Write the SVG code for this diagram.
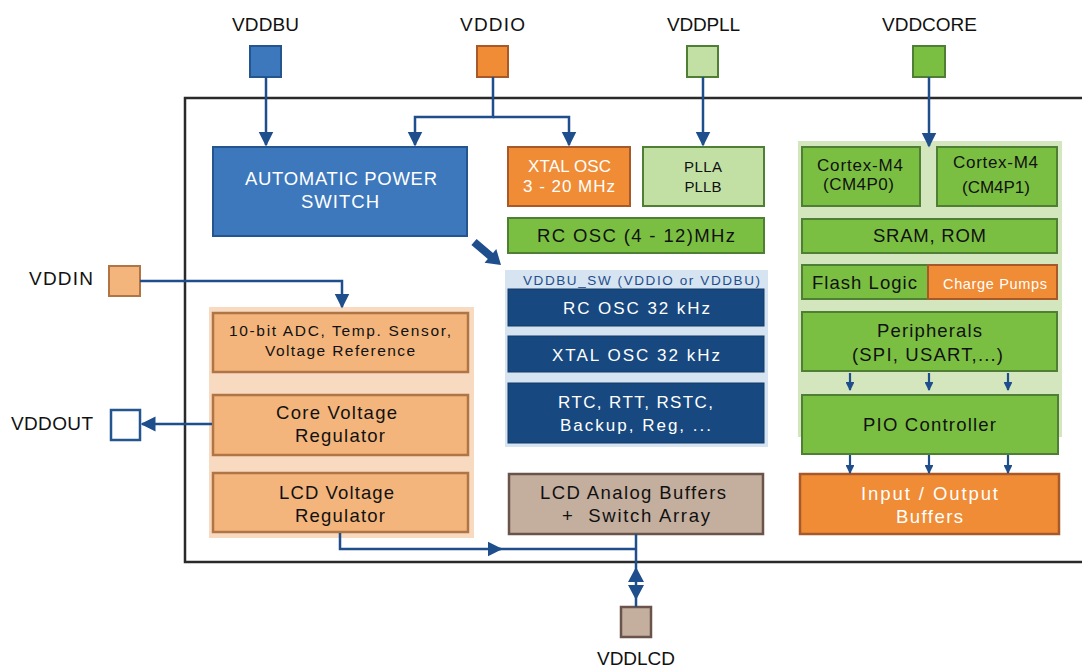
<svg xmlns="http://www.w3.org/2000/svg" width="1082" height="669" viewBox="0 0 1082 669">
<defs>
<style>
text{font-family:"Liberation Sans",Arial,sans-serif;text-anchor:middle;white-space:pre}
.lbl{font-size:19px;fill:#111}
.m{font-size:18.5px}
.s{font-size:17px}
.xs{font-size:15.5px}
.w{fill:#fff}
.k{fill:#111}
.c{stroke:#1f4e8c;stroke-width:2.5;fill:none}
.cs{stroke:#1f4e8c;stroke-width:2.2;fill:none}
.blue{fill:#3d78bd;stroke:#25558f;stroke-width:2}
.dblue{fill:#17487f;stroke:#123a68;stroke-width:1}
.org{fill:#f08c35;stroke:#a8592a;stroke-width:2}
.peach{fill:#f3b57c;stroke:#b07545;stroke-width:2.5}
.lgr{fill:#c3e0a4;stroke:#4f7f35;stroke-width:2}
.gr{fill:#7bbf42;stroke:#4f7f35;stroke-width:2}
.tan{fill:#c4ae9e;stroke:#6a534a;stroke-width:2.5}
</style>
<marker id="ah" viewBox="0 0 10 10" refX="9" refY="5" markerWidth="6" markerHeight="6.5" orient="auto" markerUnits="strokeWidth">
<path d="M0,0 L10,5 L0,10 Z" fill="#1f4e8c"/>
</marker>
<marker id="as" viewBox="0 0 10 10" refX="9" refY="5" markerWidth="4.5" markerHeight="4" orient="auto" markerUnits="strokeWidth">
<path d="M0,0 L10,5 L0,10 Z" fill="#1f4e8c"/>
</marker>
</defs>
<rect width="1082" height="669" fill="#fff"/>

<!-- chip outline -->
<path d="M1084,98 H185 V562 H1084" fill="none" stroke="#2a2a2a" stroke-width="2.5"/>

<!-- background groups -->
<g id="bg-analog"><rect x="209" y="307" width="265" height="231" fill="#f8dac0"/></g>
<g id="bg-vddbusw">
<rect x="505" y="270" width="263" height="177" fill="#d6e3f0"/>
<text x="641.5" y="285" textLength="237" lengthAdjust="spacing" style="font-size:13.5px;fill:#1f4e8c">VDDBU_SW (VDDIO or VDDBU)</text>
</g>
<g id="bg-core"><rect x="798" y="141" width="264" height="296" fill="#d3e6bd"/></g>

<!-- pins -->
<g id="pin-vddbu"><rect class="blue" x="250" y="46" width="31" height="31"/><text class="lbl" x="265.5" y="31" textLength="67" lengthAdjust="spacing">VDDBU</text></g>
<g id="pin-vddio"><rect class="org" x="477" y="46" width="31" height="31"/><text class="lbl" x="492.5" y="31" textLength="65" lengthAdjust="spacing">VDDIO</text></g>
<g id="pin-vddpll"><rect class="lgr" x="687" y="46" width="31" height="31"/><text class="lbl" x="703.5" y="31" textLength="73" lengthAdjust="spacing">VDDPLL</text></g>
<g id="pin-vddcore"><rect class="gr" x="913" y="46" width="32" height="31"/><text class="lbl" x="929.5" y="31" textLength="95" lengthAdjust="spacing">VDDCORE</text></g>
<g id="pin-vddin"><rect class="peach" x="109" y="266" width="31" height="30" style="stroke-width:2"/><text class="lbl" x="61" y="285" textLength="64" lengthAdjust="spacing">VDDIN</text></g>
<g id="pin-vddout"><rect x="111" y="410" width="29" height="30" fill="#fff" stroke="#25558f" stroke-width="2.5"/><text class="lbl" x="52" y="430" textLength="82" lengthAdjust="spacing">VDDOUT</text></g>
<g id="pin-vddlcd"><rect class="tan" x="621" y="607" width="30" height="30"/><text class="lbl" x="636" y="665" textLength="78" lengthAdjust="spacing">VDDLCD</text></g>

<!-- blocks -->
<g id="aps"><rect class="blue" x="213" y="147" width="254" height="89"/>
<text class="w m" x="341" y="185" textLength="192" lengthAdjust="spacing">AUTOMATIC POWER</text>
<text class="w m" x="340" y="208" textLength="78" lengthAdjust="spacing">SWITCH</text></g>

<g id="xtal"><rect class="org" x="508" y="147" width="122" height="59"/>
<text class="w s" x="569.5" y="172" textLength="83" lengthAdjust="spacing">XTAL OSC</text>
<text class="w s" x="569" y="192" textLength="92" lengthAdjust="spacing">3 - 20 MHz</text></g>

<g id="pll"><rect class="lgr" x="643" y="147" width="121" height="59"/>
<text class="k" x="703" y="172" textLength="38" lengthAdjust="spacing" style="font-size:15px">PLLA</text>
<text class="k" x="703" y="192" textLength="37" lengthAdjust="spacing" style="font-size:15px">PLLB</text></g>

<g id="rcosc"><rect class="gr" x="508" y="218" width="256" height="35"/>
<text class="k m" x="636" y="242" textLength="198" lengthAdjust="spacing">RC OSC (4 - 12)MHz</text></g>

<g id="rc32"><rect class="dblue" x="508" y="289" width="256" height="37"/>
<text class="w s" x="636.5" y="314" textLength="147" lengthAdjust="spacing">RC OSC 32 kHz</text></g>
<g id="xtal32"><rect class="dblue" x="508" y="336" width="256" height="36"/>
<text class="w s" x="636" y="361" textLength="168" lengthAdjust="spacing">XTAL OSC 32 kHz</text></g>
<g id="rtc"><rect class="dblue" x="508" y="383" width="256" height="60"/>
<text class="w s" x="635.5" y="408" textLength="155" lengthAdjust="spacing">RTC, RTT, RSTC,</text>
<text class="w s" x="635.5" y="431" textLength="151" lengthAdjust="spacing">Backup, Reg, ...</text></g>

<g id="lcdbuf"><rect class="tan" x="509" y="474" width="254" height="60"/>
<text class="k m" x="633" y="499" textLength="186" lengthAdjust="spacing">LCD Analog Buffers</text>
<text class="k m" x="636" y="522" textLength="148" lengthAdjust="spacing">+  Switch Array</text></g>

<g id="adc"><rect class="peach" x="213" y="313" width="255" height="59"/>
<text class="k xs" x="340" y="336" textLength="222" lengthAdjust="spacing">10-bit ADC, Temp. Sensor,</text>
<text class="k xs" x="340" y="356" textLength="150" lengthAdjust="spacing">Voltage Reference</text></g>
<g id="corereg"><rect class="peach" x="213" y="395" width="255" height="60"/>
<text class="k m" x="336.5" y="419" textLength="121" lengthAdjust="spacing">Core Voltage</text>
<text class="k m" x="340" y="442" textLength="90" lengthAdjust="spacing">Regulator</text></g>
<g id="lcdreg"><rect class="peach" x="213" y="473" width="255" height="59"/>
<text class="k m" x="336.5" y="499" textLength="115" lengthAdjust="spacing">LCD Voltage</text>
<text class="k m" x="340" y="522" textLength="90" lengthAdjust="spacing">Regulator</text></g>

<g id="cm4p0"><rect class="gr" x="802" y="147" width="118" height="59"/>
<text class="k s" x="860" y="171" textLength="86" lengthAdjust="spacing">Cortex-M4</text>
<text class="k s" x="858.5" y="190" textLength="71" lengthAdjust="spacing">(CM4P0)</text></g>
<g id="cm4p1"><rect class="gr" x="937" y="147" width="120" height="59"/>
<text class="k s" x="995.5" y="168" textLength="85" lengthAdjust="spacing">Cortex-M4</text>
<text class="k s" x="996" y="193" textLength="68" lengthAdjust="spacing">(CM4P1)</text></g>
<g id="sram"><rect class="gr" x="802" y="219" width="255" height="34"/>
<text class="k m" x="929.5" y="242" textLength="113" lengthAdjust="spacing">SRAM, ROM</text></g>
<g id="flash"><rect class="gr" x="802" y="265" width="126" height="34"/>
<text class="k m" x="864.5" y="289" textLength="105" lengthAdjust="spacing">Flash Logic</text></g>
<g id="pumps"><rect class="org" x="928" y="265" width="129" height="34"/>
<text class="w" x="995" y="289" textLength="104" lengthAdjust="spacing" style="font-size:14.5px">Charge Pumps</text></g>
<g id="periph"><rect class="gr" x="802" y="312" width="255" height="59"/>
<text class="k m" x="929.5" y="337" textLength="105" lengthAdjust="spacing">Peripherals</text>
<text class="k m" x="927.5" y="361" textLength="151" lengthAdjust="spacing">(SPI, USART,...)</text></g>
<g id="pio"><rect class="gr" x="802" y="395" width="256" height="59"/>
<text class="k m" x="929.5" y="431" textLength="133" lengthAdjust="spacing">PIO Controller</text></g>
<g id="iobuf"><rect class="org" x="800" y="474" width="259" height="60" style="stroke-width:2.5"/>
<text class="w m" x="929.5" y="500" textLength="137" lengthAdjust="spacing">Input / Output</text>
<text class="w m" x="929.5" y="523" textLength="67" lengthAdjust="spacing">Buffers</text></g>

<!-- connectors -->
<g id="connectors">
<path class="c" d="M266,77 V145" marker-end="url(#ah)"/>
<path class="c" d="M493,77 V117 H415 V145" marker-end="url(#ah)"/>
<path class="c" d="M493,117 H569 V145" marker-end="url(#ah)"/>
<path class="c" d="M703,77 V145" marker-end="url(#ah)"/>
<path class="c" d="M929,77 V146" marker-end="url(#ah)"/>
<path class="c" d="M140,281 H342 V307" marker-end="url(#ah)"/>
<path class="c" d="M212,424 H142" marker-end="url(#ah)"/>
<path class="c" d="M340,533 V549 H501" marker-end="url(#ah)"/>
<path class="c" d="M498,549 H636"/>
<path class="c" d="M636,534 V607"/>
<path d="M628,582 L636,567 L644,582 Z M628,585 L636,600 L644,585 Z" fill="#1f4e8c"/>
<path d="M476.6,239 L493,252.9 L496.3,249.1 L501,265 L484.5,262.7 L487.8,258.9 L471.4,245 Z" fill="#1f4e8c"/>
<path class="cs" d="M850,373 V390" marker-end="url(#as)"/>
<path class="cs" d="M929,373 V390" marker-end="url(#as)"/>
<path class="cs" d="M1008,373 V390" marker-end="url(#as)"/>
<path class="cs" d="M850,455 V473" marker-end="url(#as)"/>
<path class="cs" d="M929,455 V473" marker-end="url(#as)"/>
<path class="cs" d="M1008,455 V473" marker-end="url(#as)"/>
</g>
</svg>
